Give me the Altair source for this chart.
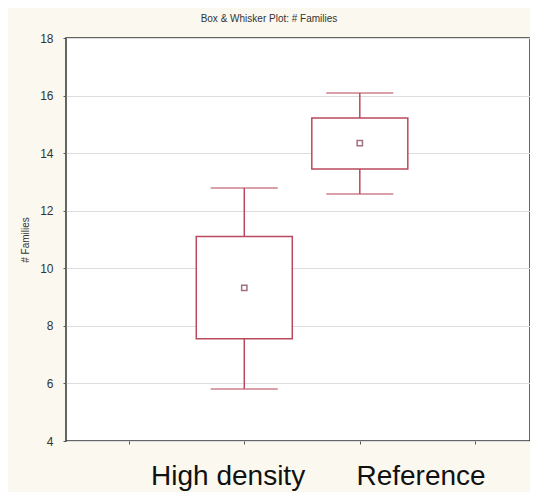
import altair as alt
import pandas as pd

groups = ["High density", "Reference"]
xpos = [1.5, 2.5]
q1 = [7.55, 13.45]
q3 = [11.1, 15.22]
means = [9.32, 14.35]
lows = [5.81, 12.58]
highs = [12.79, 16.09]

label_x = [1.36, 3.03]
x_ticks = [0.5, 1.5, 2.5, 3.5]
y_ticks = [4, 6, 8, 10, 12, 14, 16, 18]

df = pd.DataFrame({"group": groups, "x": xpos, "q1": q1, "q3": q3,
                   "mean": means, "lo": lows, "hi": highs})
lab = pd.DataFrame({"group": groups, "lx": label_x})

BOX = "#b94a5e"
xs = alt.Scale(domain=[0, 3.93], nice=False, zero=False)
ys = alt.Scale(domain=[4, 18], nice=False, zero=False)

xaxis = alt.Axis(values=x_ticks, labels=False, title=None, grid=False,
                 tickSize=3, tickColor="#555", domain=False)
yaxis = alt.Axis(values=y_ticks, title="# Families", grid=True, gridColor="#dddddd",
                 tickSize=3, tickColor="#555", domain=False,
                 labelFontSize=12, labelColor="#333", labelFont="Liberation Sans",
                 labelPadding=10, titleFontSize=10, titleFont="Liberation Sans",
                 titleColor="#333", titlePadding=9, titleFontWeight="normal")

base = alt.Chart(df)

whisk = base.mark_rule(color=BOX, strokeWidth=1.5).encode(
    x=alt.X("x:Q", scale=xs, axis=xaxis),
    y=alt.Y("lo:Q", scale=ys, axis=yaxis),
    y2="hi:Q",
)
box = base.mark_bar(size=96, fill="white", stroke=BOX, strokeWidth=1.5).encode(
    x=alt.X("x:Q", scale=xs),
    y=alt.Y("q1:Q", scale=ys),
    y2="q3:Q",
)
cap_hi = base.mark_tick(orient="horizontal", size=67, thickness=1.5, color=BOX).encode(
    x=alt.X("x:Q", scale=xs), y=alt.Y("hi:Q", scale=ys))
cap_lo = base.mark_tick(orient="horizontal", size=67, thickness=1.5, color=BOX).encode(
    x=alt.X("x:Q", scale=xs), y=alt.Y("lo:Q", scale=ys))
mean_pt = base.mark_point(shape="square", size=28, filled=False, color="#7d3548",
                          strokeWidth=1.5, fill="white").encode(
    x=alt.X("x:Q", scale=xs), y=alt.Y("mean:Q", scale=ys))

labels = alt.Chart(lab).mark_text(fontSize=28, font="Liberation Sans", color="#111",
                                  baseline="alphabetic", align="center").encode(
    x=alt.X("lx:Q", scale=xs),
    y=alt.value(447),
    text="group:N",
)

chart = alt.layer(whisk, box, cap_hi, cap_lo, mean_pt, labels).properties(
    width=464, height=403,
    autosize=alt.AutoSizeParams(type="none"),
    padding={"left": 58, "top": 30, "right": 0, "bottom": 51},
    background="#fbf9ef",
    title=alt.TitleParams("Box & Whisker Plot: # Families", fontSize=10,
                          font="Liberation Sans", fontWeight="normal",
                          color="#333", offset=8, dx=-29),
).configure_view(fill="white", stroke="#333", strokeWidth=1.5)

chart.save("out.html", embed_options={"renderer": "svg", "actions": False})
